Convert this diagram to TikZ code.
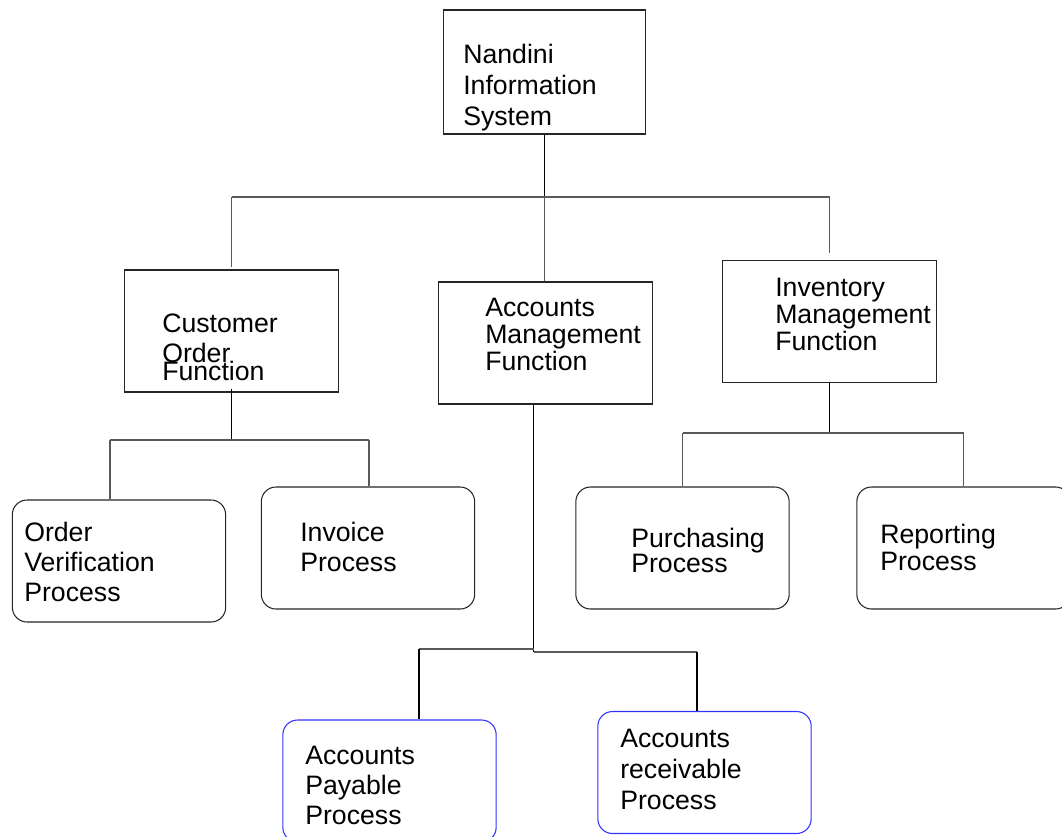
\documentclass[tikz,border=0pt]{standalone}
\usepackage{fontspec}
\setmainfont{Liberation Sans}
\usetikzlibrary{calc}
\definecolor{procblue}{RGB}{51,51,255}
\tikzset{
	fbox/.style={draw=black!85, line width=0.8pt, minimum width=160pt, minimum height=91.5pt, inner sep=0pt},
	pbox/.style={fbox, rounded corners=11pt},
	bluebox/.style={pbox, draw=procblue},
	txt/.style={anchor=base west, align=left, inner sep=0pt, font=\fontsize{20}{#1}\selectfont},
	stem/.style={line width=1.4pt, black},
	branch/.style={line width=0.8pt, black!65}
}

\begin{document}
\begin{tikzpicture}[x=0.75pt, y=-0.75pt]
			%%%%% START %%%%%
			\useasboundingbox (0,0) rectangle (1062,836);
			
			% boxes
			\node[fbox, minimum width=152pt, minimum height=93pt] (nis) at (544.5,72) {};
			\node[fbox] (cof) at (231.5,331) {};
			\node[fbox] (amf) at (545.5,343) {};
			\node[fbox] (imf) at (829.5,321.5) {};
			\node[pbox] (ovp) at (119,561) {};
			\node[pbox] (inv) at (368,548) {};
			\node[pbox] (pur) at (682.5,548) {};
			\node[pbox] (rep) at (963.5,548) {};
			\node[bluebox] (pay) at (389.5,781) {};
			\node[bluebox] (rec) at (704.5,772.5) {};
			
			% texts (placed by the baseline of their last line)
			\node[txt=23.25pt] (nist) at (463,125) {Nandini\\Information\\System};
			\node[txt=22.5pt] (coft) at (162,380) {Customer\\Order\\[-9pt]Function};
			\node[txt=19.9pt] (amft) at (485,370) {Accounts\\Management\\Function};
			\node[txt=19.9pt] (imft) at (775,350) {Inventory\\Management\\Function};
			\node[txt=22.5pt] (ovpt) at (24,601) {Order\\Verification\\Process};
			\node[txt=22.5pt] (invt) at (300,571) {Invoice\\Process};
			\node[txt=18.75pt] (purt) at (631,572) {Purchasing\\Process};
			\node[txt=20.25pt] (rept) at (880,570) {Reporting\\Process};
			\node[txt=22.5pt] (payt) at (305,824) {Accounts\\Payable\\Process};
			\node[txt=22.9pt] (rect) at (620,809) {Accounts\\receivable\\Process};
			
			% top level
			\coordinate (b0) at (0,197);
			\draw[stem] (nis.south) -- (nis.south |- b0);
			\draw[branch] (cof.north |- b0) -- (imf.north |- b0);
			\draw[branch] (cof.north |- b0) -- ($(cof.north)+(0,-2)$);
			\draw[branch] (nis.south |- b0) -- (nis.south |- amf.north);
			\draw[branch] (imf.north |- b0) -- ($(imf.north)+(0,-7)$);
			
			% customer order
			\coordinate (b1) at (0,440);
			\coordinate (ovpin) at ($(ovp.north)+(-9,0)$);
			\coordinate (invin) at ($(inv.north)+(1,0)$);
			\draw[stem] ($(cof.south)+(0,-4)$) -- (cof.south |- b1);
			\draw[branch] (ovpin |- b1) -- (invin |- b1);
			\draw[branch] (ovpin |- b1) -- (ovpin);
			\draw[branch] (invin |- b1) -- (invin);
			
			% accounts
			\coordinate (b2) at (0,649);
			\coordinate (b3) at (0,652);
			\coordinate (amfout) at ($(amf.south)+(-12,0)$);
			\coordinate (payin) at ($(pay.north)+(29.5,0)$);
			\coordinate (recin) at ($(rec.north)+(-7.5,0)$);
			\draw[stem, line width=1pt] (amfout) -- (amfout |- b3);
			\draw[branch] (amfout |- b2) -- (payin |- b2);
			\draw[branch] (amfout |- b3) -- (recin |- b3);
			\draw[branch, black] (payin |- b2) -- (payin);
			\draw[branch, black] (recin |- b3) -- (recin);
			
			% inventory
			\coordinate (b4) at (0,433);
			\draw[stem] (imf.south) -- (imf.south |- b4);
			\draw[branch] (pur.north |- b4) -- (rep.north |- b4);
			\draw[branch] (pur.north |- b4) -- (pur.north);
			\draw[branch] (rep.north |- b4) -- (rep.north);
			%%%%% END %%%%%
\end{tikzpicture}
\end{document}
